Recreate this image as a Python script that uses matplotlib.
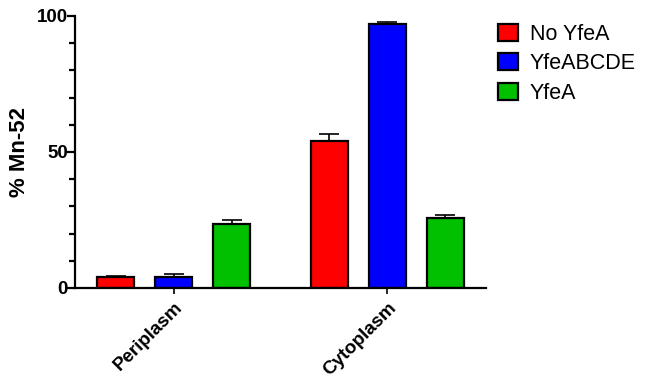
import matplotlib
matplotlib.use("Agg")
import matplotlib.pyplot as plt
import numpy as np
from matplotlib.ticker import MultipleLocator

plt.rcParams['font.family'] = ['Liberation Sans', 'DejaVu Sans']

compartments = ["Periplasm", "Cytoplasm"]
strains = ["No YfeA", "YfeABCDE", "YfeA"]
colors = ["#FF0000", "#0000FF", "#00C000"]
means = {
    "No YfeA": [4.1, 54.2],
    "YfeABCDE": [4.1, 96.9],
    "YfeA": [23.4, 25.8],
}
errs = {
    "No YfeA": [0.4, 2.6],
    "YfeABCDE": [1.0, 0.8],
    "YfeA": [1.6, 1.1],
}

fig = plt.figure(figsize=(6.46, 3.84), dpi=100)
ax = fig.add_axes([75/646, 96/384, 411/646, 272/384])

group_pos = np.array([0.0, 3.69])
width = 0.64
for i, s in enumerate(strains):
    x = group_pos + (i - 1)
    ax.bar(x, means[s], width=width, color=colors[i], edgecolor='black',
           linewidth=1.6, label=s, zorder=2)
    ax.errorbar(x, means[s], yerr=[np.zeros(2), errs[s]], fmt='none',
                ecolor='black', elinewidth=1.2, capsize=7, capthick=1.2, zorder=1)

ax.set_xlim(-1.70, 5.39)
ax.set_ylim(0, 100)
ax.set_yticks([0, 50, 100])
ax.yaxis.set_minor_locator(MultipleLocator(10))
ax.set_xticks(group_pos)
ax.set_xticklabels(compartments, rotation=45, ha='right', rotation_mode='anchor',
                   fontsize=13.5, fontweight='bold')
for lab in ax.get_yticklabels():
    lab.set_fontsize(13.5)
    lab.set_fontweight('bold')
ax.set_ylabel("% Mn-52", fontsize=16, fontweight='bold', labelpad=5)

for side in ['top', 'right']:
    ax.spines[side].set_visible(False)
for side in ['left', 'bottom']:
    ax.spines[side].set_linewidth(1.6)
ax.tick_params(axis='y', which='major', length=6, width=1.6, pad=-1)
ax.tick_params(axis='y', which='minor', length=4, width=1.6)
ax.tick_params(axis='x', which='major', length=4, width=1.2, pad=4)

ax.legend(loc='upper left', bbox_to_anchor=(1.029, 0.972), frameon=False,
          fontsize=15.5, handlelength=0.93, handleheight=0.85, handletextpad=0.56,
          labelspacing=0.4, borderaxespad=0, borderpad=0)

fig.savefig("out.png", dpi=100)
